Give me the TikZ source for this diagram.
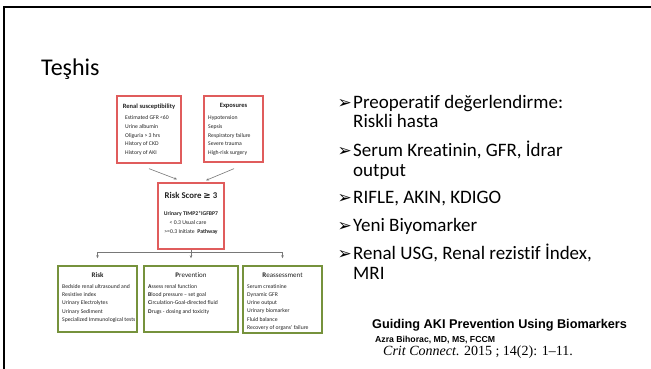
\documentclass[tikz,border=0pt]{standalone}
\usepackage{fontspec}
\setmainfont{Carlito}[Ligatures=NoCommon]
\newfontfamily\dejavu{DejaVu Sans}
\newfontfamily\arialf{Liberation Sans}
\newfontfamily\timesf{Liberation Serif}
\usetikzlibrary{arrows.meta}

\definecolor{boxred}{RGB}{224,92,92}
\definecolor{boxgreen}{RGB}{118,146,60}
\definecolor{arrowgray}{RGB}{120,120,120}
\definecolor{figtext}{RGB}{35,35,35}

\begin{document}
\begin{tikzpicture}[x=1pt,y=-1pt,
  redbox/.style={draw=boxred,line width=1.3pt,inner sep=0pt},
  greenbox/.style={draw=boxgreen,line width=1.5pt,inner sep=0pt},
  ttl/.style={font=\bfseries\fontsize{6.5}{8}\selectfont,text=figtext,inner sep=0pt,anchor=base},
  gttl/.style={font=\fontsize{7}{8}\selectfont,text=figtext,inner sep=0pt,anchor=base},
  lst/.style={font=\fontsize{5.7}{7}\selectfont,text=figtext,inner sep=0pt,anchor=base west},
  clst/.style={font=\fontsize{5.7}{7}\selectfont,text=figtext,inner sep=0pt,anchor=base},
  arr/.style={draw=arrowgray,line width=0.6pt,-{Stealth[length=3pt,width=2.6pt]}},
  conn/.style={draw=arrowgray,line width=0.6pt},
  body/.style={font=\fontsize{19}{21}\selectfont,inner sep=0pt,anchor=base west},
  bul/.style={font=\dejavu\fontsize{17}{21}\selectfont,inner sep=0pt,anchor=base west}]

\useasboundingbox (0,0) rectangle (651,369);
\fill[white] (0,0) rectangle (651,369);

% slide frame
\draw[line width=2.5pt] (4,369) -- (4,7) -- (651,7);

% title
\node[font=\fontsize{24}{30}\selectfont,inner sep=0pt,anchor=base west] (title) at (41,76) {Teşhis};

% ---------- flow chart ----------
\node[redbox,minimum width=64pt,minimum height=67pt] (renal) at (149,129.5) {};
\node[redbox,minimum width=59pt,minimum height=66pt] (expo) at (233.5,129) {};
\node[redbox,minimum width=66pt,minimum height=66pt] (score) at (191,216) {};
\node[greenbox,minimum width=79pt,minimum height=66pt] (risk) at (97.5,299) {};
\node[greenbox,minimum width=94pt,minimum height=66pt] (prev) at (191,299) {};
\node[greenbox,minimum width=79pt,minimum height=67pt] (reas) at (282.5,299.5) {};

\node[ttl] (renal-t) at (149,108) {Renal susceptibility};
\foreach \t [count=\i] in {Estimated GFR <60, Urine albumin, Oliguria > 3 hrs, History of CKD, History of AKI}
  \node[lst] (renal-l\i) at (125,{120+8.5*(\i-1)}) {\t};

\node[ttl] (expo-t) at (233.5,107.5) {Exposures};
\foreach \t [count=\i] in {Hypotension, Sepsis, Respiratory failure, Severe trauma, High-risk surgery}
  \node[lst] (expo-l\i) at (208,{120+8.5*(\i-1)}) {\t};

\node[ttl,font=\bfseries\fontsize{8.8}{10}\selectfont] (score-t) at (191,198) {Risk Score {\dejavu ≥} 3};
\node[clst,font=\bfseries\fontsize{5.7}{7}\selectfont] (score-l1) at (191,215) {Urinary TIMP2*IGFBP7};
\node[clst] (score-l2) at (188,224) {< 0.3 Usual care};
\node[clst] (score-l3) at (191,233) {>=0.3 Initiate\ \ \textbf{Pathway}};

\node[gttl] (risk-t) at (97.5,277) {\textbf{Risk}};
\foreach \t [count=\i] in {Bedside renal ultrasound and, Resistive index, Urinary Electrolytes, Urinary Sediment, Specialized Immunological tests}
  \node[lst] (risk-l\i) at (62,{288+8.4*(\i-1)}) {\t};

\node[gttl] (prev-t) at (191,277) {\textbf{P}revention};
\foreach \t [count=\i] in {\textbf{A}ssess renal function, \textbf{B}lood pressure – set goal, \textbf{C}irculation-Goal-directed fluid, \textbf{D}rugs - dosing and toxicity}
  \node[lst] (prev-l\i) at (148,{288+8.4*(\i-1)}) {\t};

\node[gttl] (reas-t) at (282.5,277) {\textbf{R}eassessment};
\foreach \t [count=\i] in {Serum creatinine, Dynamic GFR, Urine output, Urinary biomarker, Fluid balance, Recovery of organs' failure}
  \node[lst] (reas-l\i) at (247,{288+8.3*(\i-1)}) {\t};

% connectors
\draw[arr] ([yshift=-5pt]renal.south) -- ([xshift=-14pt,yshift=3pt]score.north);
\draw[arr] ([xshift=0.5pt,yshift=-6pt]expo.south) -- ([xshift=15pt,yshift=2pt]score.north);
\coordinate (hl) at (97.5,252);
\coordinate (hr) at (282.5,252);
\draw[conn] (score.south) -- (score.south |- hl);
\draw[conn] (hl) -- (hr);
\draw[arr] (hl) -- ([yshift=7pt]risk.north);
\draw[arr] (score.south |- hl) -- ([yshift=7pt]prev.north);
\draw[arr] (hr) -- ([yshift=7pt]reas.north);

% ---------- bullet list ----------
\node[bul] (b1) at (337.5,108) {➢};
\node[body] (t1a) at (353,108) {Preoperatif değerlendirme:};
\node[body] (t1b) at (353,128) {Riskli hasta};
\node[bul] (b2) at (337.5,156) {➢};
\node[body] (t2a) at (353,156) {Serum Kreatinin, GFR, İdrar};
\node[body] (t2b) at (353,176) {output};
\node[bul] (b3) at (337.5,203.5) {➢};
\node[body] (t3) at (353,203.5) {RIFLE, AKIN, KDIGO};
\node[bul] (b4) at (337.5,231) {➢};
\node[body] (t4) at (353,231) {Yeni Biyomarker};
\node[bul] (b5) at (337.5,259) {➢};
\node[body] (t5a) at (353,259) {Renal USG, Renal rezistif İndex,};
\node[body] (t5b) at (353,279) {MRI};

% ---------- reference ----------
\node[font=\arialf\bfseries\fontsize{12.7}{14}\selectfont,inner sep=0pt,anchor=base west] (ref1) at (372,328) {Guiding AKI Prevention Using Biomarkers};
\node[font=\arialf\bfseries\fontsize{8.7}{10}\selectfont,inner sep=0pt,anchor=base west] (ref2) at (375,342) {Azra Bihorac, MD, MS, FCCM};
\node[font=\timesf\fontsize{14}{16}\selectfont,inner sep=0pt,anchor=base west] (ref3) at (383,355) {\textit{Crit Connect}. 2015 ; 14(2): 1–11.};
\end{tikzpicture}
\end{document}
